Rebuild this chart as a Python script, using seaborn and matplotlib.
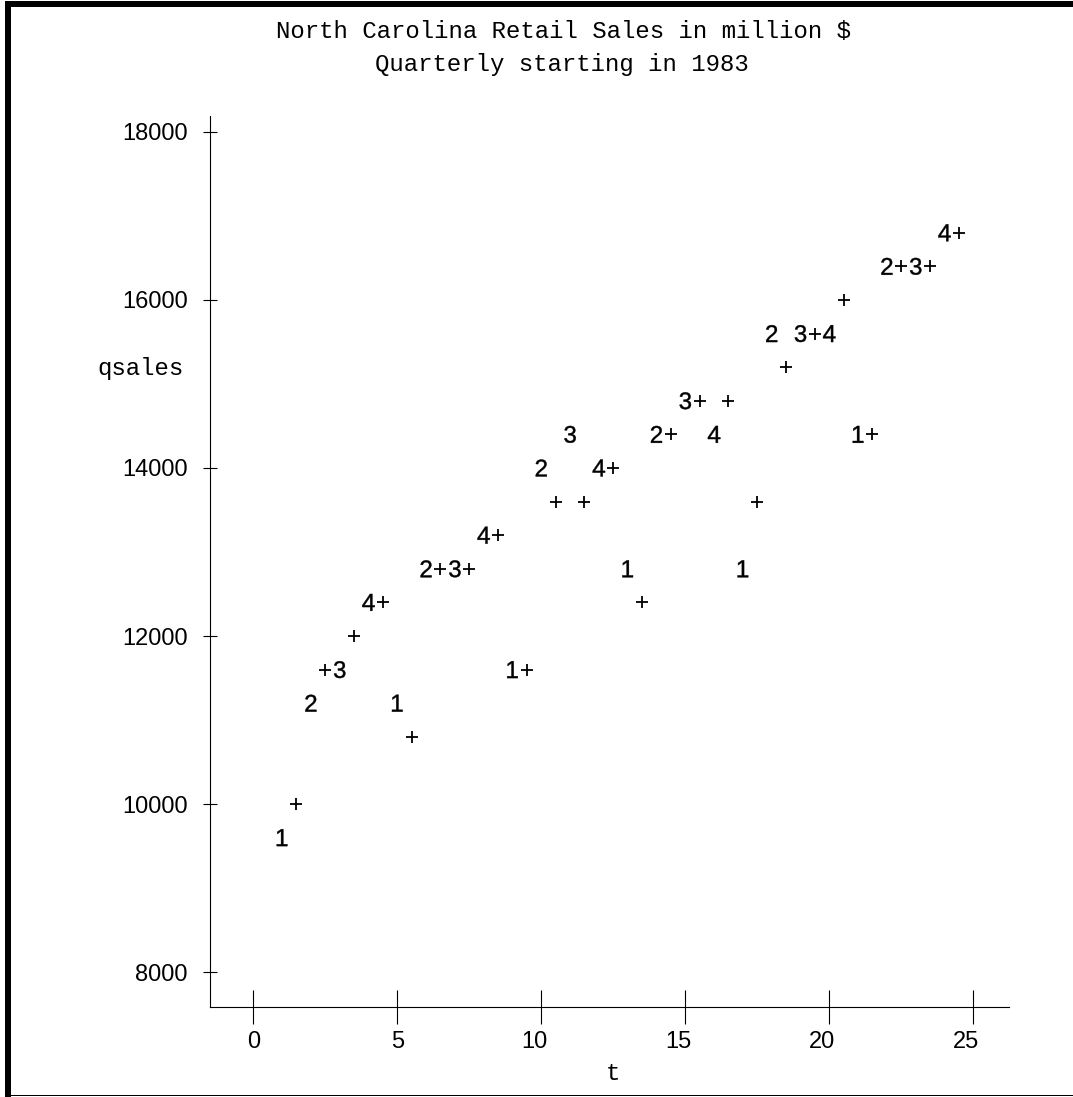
import numpy as np
import pandas as pd
import matplotlib
matplotlib.use("Agg")
import matplotlib.pyplot as plt
import matplotlib.transforms as mtransforms
from matplotlib.patches import Rectangle
import seaborn as sns

# Quarterly retail sales, t = 1 is the first quarter of 1983
t = list(range(1, 25))
quarter = ["1", "2", "3", "4"] * 6
qsales = [9600, 11200, 11600, 12400, 11200, 12800, 12800, 13200,
          11600, 14000, 14400, 14000, 12800, 14400, 14800, 14400,
          12800, 15600, 15600, 15600, 14400, 16400, 16400, 16800]
# Trend + seasonal fit for the same quarters
fitted = [10000, 11600, 12000, 12400, 10800, 12800, 12800, 13200,
          11600, 13600, 13600, 14000, 12400, 14400, 14800, 14800,
          13600, 15200, 15600, 16000, 14400, 16400, 16400, 16800]

xticks = [0, 5, 10, 15, 20, 25]
yticks = [8000, 10000, 12000, 14000, 16000, 18000]
title_lines = ["North Carolina Retail Sales in million $",
               "Quarterly starting in 1983"]
xlabel = "t"
ylabel = "qsales"

# ---- styling ---------------------------------------------------------
sns.set_theme(style="white")
plt.rcParams["font.family"] = ["Liberation Sans", "DejaVu Sans"]
plt.rcParams["mathtext.fontset"] = "custom"
plt.rcParams["mathtext.rm"] = "Liberation Sans"
plt.rcParams["mathtext.it"] = "Liberation Sans"
plt.rcParams["mathtext.default"] = "regular"

MONO = ["Liberation Mono", "DejaVu Sans Mono"]
MONO_SIZE = 17.28
TICK_SIZE = 17
FIT_DODGE = 0.5          # half-column shift so fit symbols sit beside the data digits
LINE_W = 0.8

W, H, DPI = 1073, 1097, 100
fig = plt.figure(figsize=(W / DPI, H / DPI), dpi=DPI)
fig.patch.set_facecolor("white")


def fx(px):
    return px / W


def fy(py):
    return 1 - py / H


ax = fig.add_axes([fx(210), fy(1007), fx(1009) - fx(210), fy(116) - fy(1007)])
ax.set_facecolor("white")

# ---- marks -----------------------------------------------------------
obs = pd.DataFrame({"t": t, "qsales": qsales, "quarter": quarter})
fit = pd.DataFrame({"t": np.array(t) + FIT_DODGE, "fitted": fitted})

digit_markers = {q: f"${q}$" for q in sorted(set(quarter))}
sns.scatterplot(data=obs, x="t", y="qsales", style="quarter",
                markers=digit_markers, s=148, color="black",
                linewidth=0.3, edgecolor="black", legend=False, ax=ax)
sns.scatterplot(data=fit, x="t", y="fitted", marker="+", s=72,
                color="black", linewidth=1.3, legend=False, ax=ax)

ax.set_xlim(-1.503, 26.24)
ax.set_ylim(7584, 18190)

# ---- axes ------------------------------------------------------------
sns.despine(ax=ax)
for side in ("left", "bottom"):
    ax.spines[side].set_color("black")
    ax.spines[side].set_linewidth(LINE_W)

ax.set_xticks(xticks)
ax.set_yticks(yticks)
ax.tick_params(axis="x", bottom=True, direction="inout", length=23.8,
               width=LINE_W, color="black", labelsize=TICK_SIZE,
               labelcolor="black", pad=5.4)
ax.tick_params(axis="y", left=True, direction="inout", length=10.1,
               width=LINE_W, color="black", labelsize=TICK_SIZE,
               labelcolor="black", pad=10.8)

# multi-digit x labels end under the tick, like a character grid
for lab, v in zip(ax.get_xticklabels(), xticks):
    n = len(str(v))
    shift = mtransforms.ScaledTranslation(-(n - 1) * 7.2 / DPI, 0,
                                          fig.dpi_scale_trans)
    lab.set_transform(lab.get_transform() + shift)

half_cap = 7.9 / DPI
ax.set_ylabel(ylabel, rotation=0, fontfamily=MONO, fontsize=MONO_SIZE,
              color="black", ha="center", va="baseline")
ax.yaxis.set_label_coords(
    -0.0876, 15200,
    transform=mtransforms.blended_transform_factory(ax.transAxes, ax.transData)
    + mtransforms.ScaledTranslation(0, -half_cap, fig.dpi_scale_trans))

ax.set_xlabel(xlabel, fontfamily=MONO, fontsize=MONO_SIZE, color="black",
              ha="center", va="baseline")
ax.xaxis.set_label_coords(
    0.5048, 0,
    transform=ax.transAxes
    + mtransforms.ScaledTranslation(0, -73 / DPI, fig.dpi_scale_trans))

# ---- titles ----------------------------------------------------------
fig.text(fx(564), fy(38), title_lines[0], ha="center", va="baseline",
         family=MONO, size=MONO_SIZE, color="black")
fig.text(fx(562), fy(71), title_lines[1], ha="center", va="baseline",
         family=MONO, size=MONO_SIZE, color="black")

# ---- page frame ------------------------------------------------------
fig.add_artist(Rectangle((fx(5), 0), 6 / W, fy(1), transform=fig.transFigure,
                         facecolor="black", edgecolor="none"))
fig.add_artist(Rectangle((fx(5), fy(7)), 1 - fx(5), 6 / H,
                         transform=fig.transFigure,
                         facecolor="black", edgecolor="none"))
fig.add_artist(Rectangle((fx(5), fy(1096.3)), 1 - fx(5), 1.2 / H,
                         transform=fig.transFigure,
                         facecolor="black", edgecolor="none"))

fig.savefig("out.png", dpi=DPI)
